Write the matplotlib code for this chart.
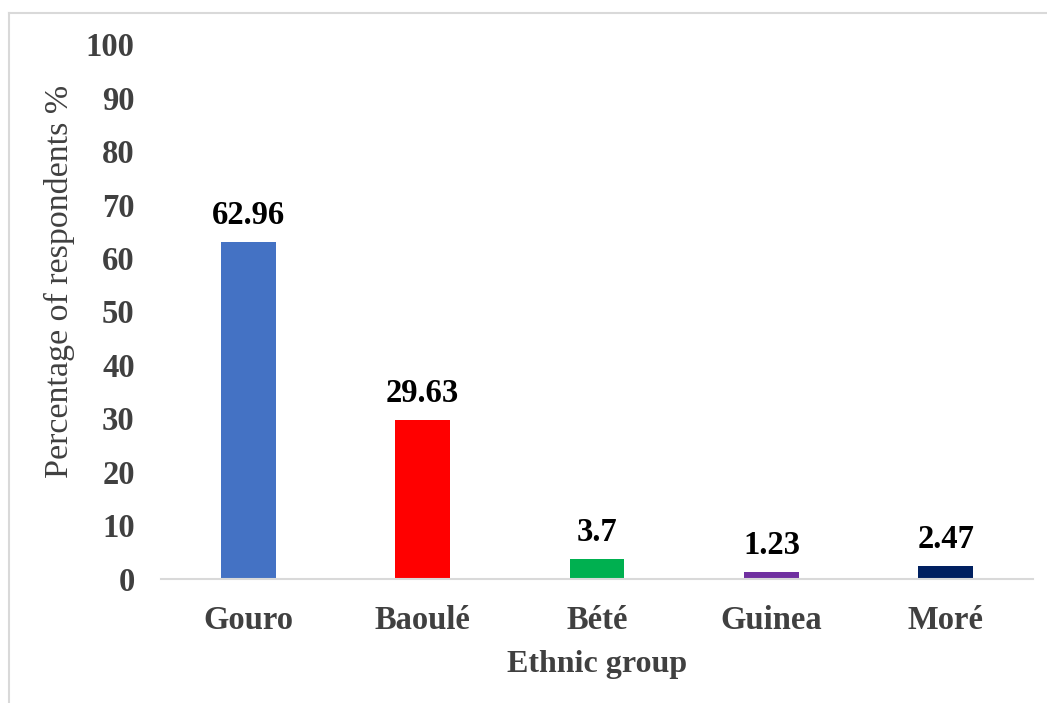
import matplotlib
matplotlib.use("Agg")
from matplotlib import pyplot as plt
from matplotlib.lines import Line2D

groups = ['Gouro', 'Baoulé', 'Bété', 'Guinea', 'Moré']
percent = [62.96, 29.63, 3.7, 1.23, 2.47]
labels = ['62.96', '29.63', '3.7', '1.23', '2.47']
colors = ['#4472C4', '#FF0000', '#00B050', '#7030A0', '#002060']

plt.rcParams['font.family'] = 'Liberation Serif'

fig = plt.figure(figsize=(10.47, 7.03), dpi=100)
ax = fig.add_axes([0.1538, 0.1764, 0.8328, 0.7610])

x = list(range(len(groups)))
bars = ax.bar(x, percent, width=0.315, color=colors)
ax.set_xlim(-0.5, len(groups) - 0.5)
ax.set_ylim(0, 100)
ax.set_yticks(range(0, 101, 10))
ax.set_xticks(x)
ax.set_xticklabels(groups)

for side in ['top', 'right', 'left']:
    ax.spines[side].set_visible(False)
ax.spines['bottom'].set_color('#d9d9d9')
ax.spines['bottom'].set_linewidth(1.5)

ax.tick_params(axis='y', length=0, pad=19, labelsize=23.5, labelcolor='#404040')
ax.tick_params(axis='x', length=0, pad=19, labelsize=23.5, labelcolor='#404040')
for t in ax.get_xticklabels() + ax.get_yticklabels():
    t.set_fontweight('bold')

for b, txt in zip(bars, labels):
    ax.annotate(txt, (b.get_x() + b.get_width() / 2, b.get_height()),
                xytext=(0, 8), textcoords='offset points',
                ha='center', va='bottom', fontsize=23.5, fontweight='bold',
                color='black')

ax.set_xlabel('Ethnic group', fontsize=23, fontweight='bold', color='#404040',
              labelpad=10)
ax.set_ylabel('Percentage of respondents %', fontsize=24.5, color='#404040')
ax.yaxis.set_label_coords(-0.0986, 0.557)

# chart frame (top and left edges visible)
fig.add_artist(Line2D([8.5 / 1047, 1.0], [1 - 12.5 / 703] * 2,
                      transform=fig.transFigure, color='#d9d9d9', lw=1.5))
fig.add_artist(Line2D([8.5 / 1047] * 2, [0.0, 1 - 12.5 / 703],
                      transform=fig.transFigure, color='#d9d9d9', lw=1.5))

fig.savefig('out.png', dpi=100)
